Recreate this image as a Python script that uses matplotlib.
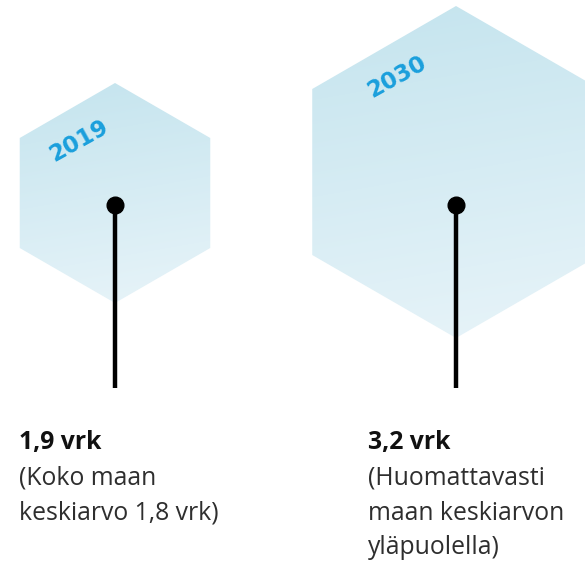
import numpy as np
import matplotlib
matplotlib.use('Agg')
import matplotlib.pyplot as plt
from matplotlib.patches import Polygon

# data
YEARS = ['2019', '2030']
VALUES = ['1,9 vrk', '3,2 vrk']
NOTES = ['(Koko maan\nkeskiarvo 1,8 vrk)',
         '(Huomattavasti\nmaan keskiarvon\nyläpuolella)']

# layout (pixel coords, y down)
W, H = 585, 565
CENTERS = [(115, 193), (456, 172)]
RADII = [110, 166]
DOT_Y = 205
LINE_END = 388
TEXT_X = [19, 368]
YEAR_POS = [(79, 141), (397, 77)]

TOP = np.array([196, 228, 238]) / 255.
BOT = np.array([232, 244, 249]) / 255.
BLUE = '#1a9fdc'

plt.rcParams.update({'font.family': 'Open Sans'})

fig = plt.figure(figsize=(W/100, H/100), dpi=100)
ax = fig.add_axes([0, 0, 1, 1])
ax.set_xlim(0, W); ax.set_ylim(H, 0)
ax.axis('off')


def hexagon(cx, cy, r):
    ang = np.deg2rad(np.arange(6)*60 - 90)
    return np.column_stack([cx + r*np.cos(ang), cy + r*np.sin(ang)])


for (cx, cy), r in zip(CENTERS, RADII):
    pts = hexagon(cx, cy, r)
    poly = Polygon(pts, closed=True, facecolor='none', edgecolor='none')
    ax.add_patch(poly)
    # vertical gradient, slightly skewed
    n = 200
    yy, xx = np.mgrid[0:1:n*1j, 0:1:n*1j]
    t = np.clip(0.85*yy + 0.15*xx, 0, 1)[..., None]
    img = TOP*(1-t) + BOT*t
    im = ax.imshow(img, extent=(cx-r, cx+r, cy+r, cy-r), interpolation='bilinear',
                   zorder=1)
    im.set_clip_path(poly)

for i, (x, y) in enumerate(YEAR_POS):
    ax.text(x, y, YEARS[i], rotation=29, ha='center', va='center',
            fontsize=16.5, fontweight='bold', color=BLUE, zorder=3,
            family='DejaVu Sans')

for (cx, cy) in CENTERS:
    ax.plot([cx, cx], [DOT_Y, LINE_END], color='k', lw=3.2, zorder=3,
            solid_capstyle='butt')
    ax.plot(cx, DOT_Y, 'o', color='k', ms=12, zorder=4)

for i, x in enumerate(TEXT_X):
    ax.text(x, 442, VALUES[i], ha='left', va='center', fontsize=17.8,
            fontweight='bold', color='#111111')
    for j, line in enumerate(NOTES[i].split('\n')):
        ax.text(x, 478 + 35*j, line, ha='left', va='center', fontsize=17.8,
                fontweight='normal', color='#2e2e2e')

fig.savefig('out.png', dpi=100)
